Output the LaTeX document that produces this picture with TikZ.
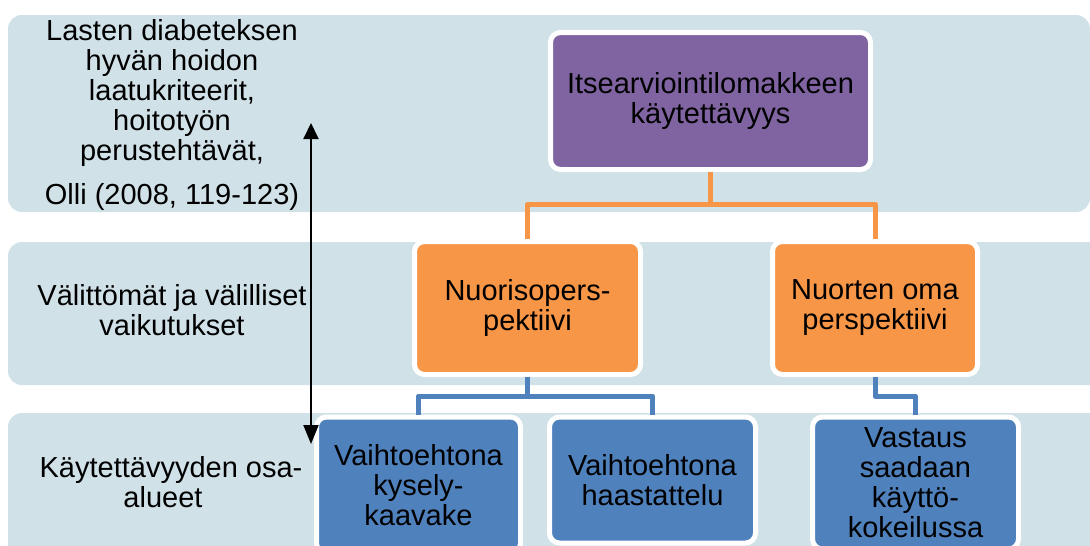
\documentclass[tikz,border=0pt]{standalone}
\usepackage{fontspec}
\setmainfont{Liberation Sans}
\usetikzlibrary{arrows.meta}

\definecolor{bandfill}{RGB}{208,225,232}
\definecolor{purplefill}{RGB}{128,100,162}
\definecolor{orangefill}{RGB}{247,150,70}
\definecolor{bluefill}{RGB}{79,129,189}

\newcommand{\diagfont}{\fontsize{29}{30}\selectfont}

\tikzset{
  band/.style={fill=bandfill, rounded corners=14},
  box/.style={draw=white, line width=5, rounded corners=10, align=center,
    inner sep=0pt, font=\diagfont, text=black},
  purplebox/.style={box, fill=purplefill},
  orangebox/.style={box, fill=orangefill},
  bluebox/.style={box, fill=bluefill},
  bandtext/.style={align=center, inner sep=0pt, font=\diagfont, text=black},
  oconn/.style={draw=orangefill, line width=5, line join=round},
  bconn/.style={draw=bluefill, line width=5, line join=round},
  dblarrow/.style={draw=black, line width=2,
    {Triangle[width=15,length=16]}-{Triangle[width=15,length=19]}},
}

\begin{document}
\begin{tikzpicture}[x=1pt,y=-1pt]
\useasboundingbox (0,0) rectangle (1090,546);
\clip (0,0) rectangle (1090,546);

% background bands
\fill[band] (8,15) rectangle (1090,212);
\fill[band] (8,242) rectangle (1110,385);
\fill[band] (8,413) rectangle (1110,600);

% level labels
\node[bandtext] (l1) at (172,93.5) {Lasten diabeteksen\\hyvän hoidon\\laatukriteerit,\\hoitotyön\\perustehtävät,};
\node[bandtext] (l1src) at (172,197) {Olli (2008, 119-123)};
\node[bandtext] (l2) at (172,310) {Välittömät ja välilliset\\vaikutukset};
\node[bandtext] (l3) at (171,482) {Käytettävyyden osa-\\alueet\hspace*{16pt}};

% hierarchy boxes
\node[purplebox, minimum width=320, minimum height=137] (top) at (710.5,101)
  {Itsearviointilomakkeen\\käytettävyys};
\node[orangebox, minimum width=226, minimum height=133] (o1) at (527.5,308)
  {Nuorisopers-\\pektiivi};
\node[orangebox, minimum width=205, minimum height=133] (o2) at (875,308)
  {Nuorten oma\\perspektiivi};
\node[bluebox, minimum width=204, minimum height=136] (b1) at (418.5,485)
  {Vaihtoehtona\\kysely-\\kaavake};
\node[bluebox, minimum width=206, minimum height=126] (b2) at (652.5,480)
  {Vaihtoehtona\\haastattelu};
\node[bluebox, minimum width=206, minimum height=132] (b3) at (915.5,483)
  {Vastaus\\saadaan\\käyttö-\\kokeilussa};

% connectors
\draw[oconn] (top.south) -- ++(0,32) coordinate (oj) -| (o1.north);
\draw[oconn] (oj) -| (o2.north);
\draw[bconn] (o1.south) -- ++(0,19) coordinate (bj) -| (b1.north);
\draw[bconn] (bj) -| (b2.north);
\draw[bconn] (o2.south) -- ++(0,19) -| (b3.north);

% vertical scale arrow
\coordinate (atop) at (311,123);
\coordinate (abot) at (311,444);
\draw[dblarrow] (atop) -- (abot);
\end{tikzpicture}
\end{document}
